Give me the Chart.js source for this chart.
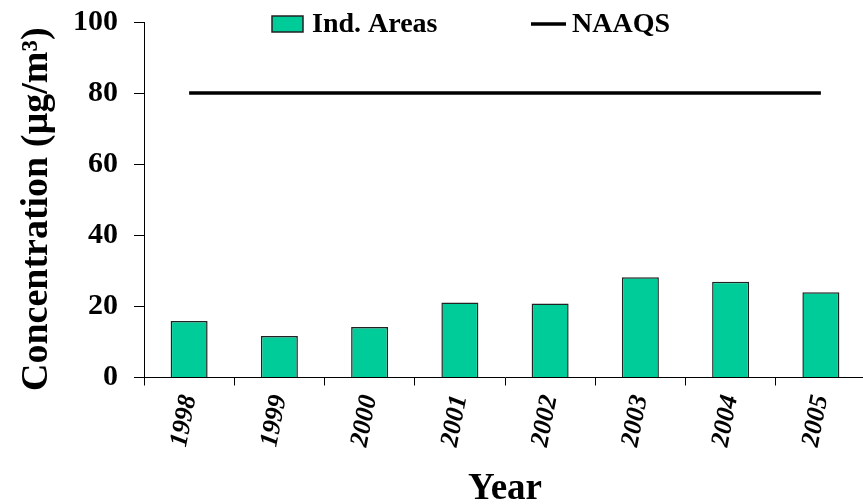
<!DOCTYPE html>
<html>
<head>
<meta charset="utf-8">
<script src="https://cdn.jsdelivr.net/npm/chart.js@4.4.1/dist/chart.umd.min.js"></script>
<style>
  html, body { margin: 0; padding: 0; background: #fff; overflow: hidden; }
  canvas { display: block; }
</style>
</head>
<body>
<canvas id="chart" width="870" height="504"></canvas>
<script>
const years = ['1998', '1999', '2000', '2001', '2002', '2003', '2004', '2005'];
const indAreas = [15.9, 11.7, 14.2, 21.1, 20.8, 28.2, 26.9, 24.0];
const naaqs = [80, 80, 80, 80, 80, 80, 80, 80];
const yMin = 0;
const yMax = 100;
const yStep = 20;

const serif = '"Liberation Serif", "Times New Roman", serif';

// legend drawn by hand so it can sit inside the top of the plot like the original
const manualLegend = {
    id: 'manualLegend',
    afterDraw(chart) {
        const ctx = chart.ctx;
        const bars = chart.data.datasets[0];
        const line = chart.data.datasets[1];
        ctx.save();
        ctx.font = 'bold 28px ' + serif;
        ctx.textBaseline = 'middle';

        ctx.fillStyle = bars.backgroundColor;
        ctx.fillRect(272, 16, 31, 16);
        ctx.strokeStyle = bars.borderColor;
        ctx.lineWidth = 1.5;
        ctx.strokeRect(272, 16, 31, 16);
        ctx.fillStyle = '#000';
        ctx.fillText(bars.label, 312, 25);

        ctx.strokeStyle = line.borderColor;
        ctx.lineWidth = 3.5;
        ctx.beginPath();
        ctx.moveTo(531, 24);
        ctx.lineTo(566, 24);
        ctx.stroke();
        ctx.fillText(line.label, 572, 25);
        ctx.restore();
    }
};

new Chart(document.getElementById('chart').getContext('2d'), {
    data: {
        labels: years,
        datasets: [
            {
                type: 'bar',
                label: 'Ind. Areas',
                data: indAreas,
                backgroundColor: '#00CC99',
                borderColor: '#222',
                borderWidth: 1.5,
                barPercentage: 0.41,
                categoryPercentage: 1.0,
                order: 2
            },
            {
                type: 'line',
                label: 'NAAQS',
                data: naaqs,
                borderColor: '#000',
                borderWidth: 3.5,
                pointRadius: 0,
                fill: false,
                order: 1
            }
        ]
    },
    options: {
        responsive: false,
        animation: false,
        layout: { padding: { top: 22, right: 4, left: 0, bottom: 0 } },
        plugins: {
            legend: { display: false },
            tooltip: { enabled: false }
        },
        scales: {
            x: {
                offset: true,
                grid: {
                    offset: true,
                    drawOnChartArea: false,
                    drawTicks: true,
                    tickLength: 8,
                    color: '#000'
                },
                border: { color: '#000', width: 1 },
                ticks: {
                    color: '#000',
                    font: { family: serif, size: 26, weight: 'bold', style: 'italic' },
                    minRotation: 79,
                    maxRotation: 79,
                    padding: 7,
                    autoSkip: false
                },
                title: {
                    display: true,
                    text: 'Year',
                    color: '#000',
                    font: { family: serif, size: 37, weight: 'bold', lineHeight: 0.8 },
                    padding: { top: 0, bottom: 0 }
                },
                afterFit(scale) {
                    scale.height = 126.5;
                    scale.paddingLeft = 0;
                    scale.paddingRight = 0;
                }
            },
            y: {
                min: yMin,
                max: yMax,
                grid: {
                    drawOnChartArea: false,
                    drawTicks: true,
                    tickLength: 10,
                    color: '#000'
                },
                border: { color: '#000', width: 1 },
                ticks: {
                    stepSize: yStep,
                    color: '#000',
                    padding: 16,
                    font: { family: serif, size: 30, weight: 'bold' }
                },
                title: {
                    display: true,
                    text: 'Concentration (µg/m³)  ',
                    color: '#000',
                    font: { family: serif, size: 38, weight: 'bold', lineHeight: 1.0 },
                    padding: { top: 18, bottom: 0 }
                },
                afterFit(scale) {
                    scale.width = 144;
                    scale.paddingTop = 0;
                    scale.paddingBottom = 0;
                }
            }
        }
    },
    plugins: [manualLegend]
});
</script>
</body>
</html>
